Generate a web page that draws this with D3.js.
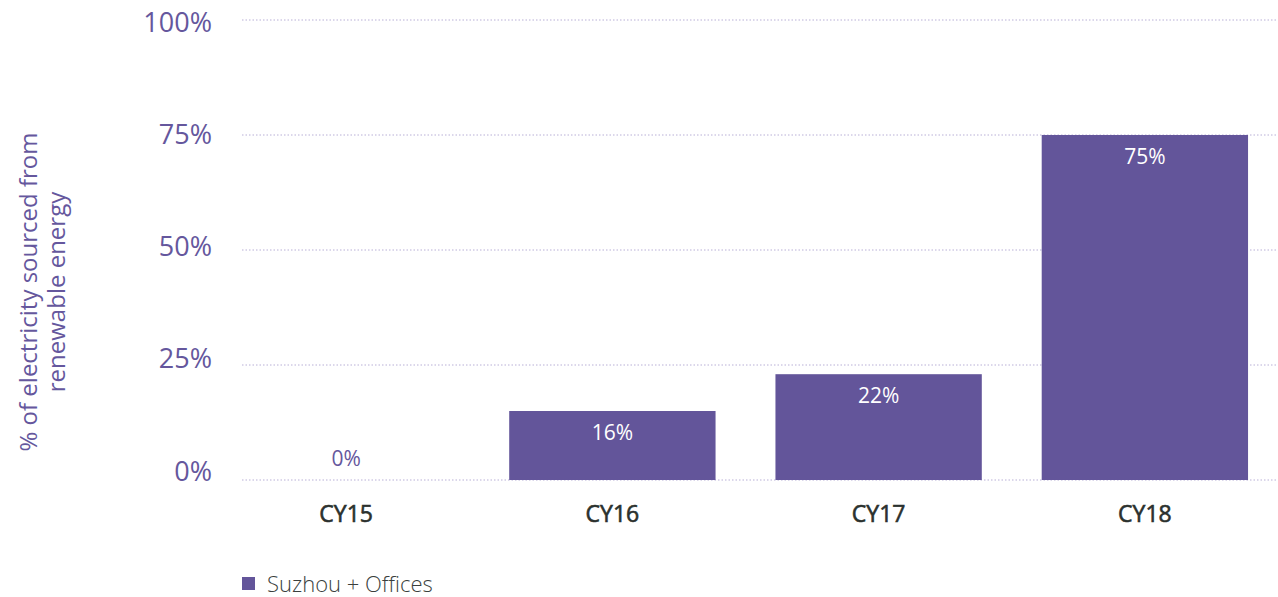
<!DOCTYPE html>
<html>
<head>
<meta charset="utf-8">
<script src="https://cdn.jsdelivr.net/npm/d3@7"></script>
<style>
  body { margin: 0; background: #fff; }
  svg { font-family: "Open Sans", Lato, sans-serif; }
</style>
</head>
<body>
<div id="chart"></div>
<script>
// Renewable electricity share by calendar year
const categories = ['CY15', 'CY16', 'CY17', 'CY18'];
const values = [0, 15, 23, 75];
const valueLabels = ['0%', '16%', '22%', '75%'];
const yTicks = [0, 25, 50, 75, 100];
const seriesName = 'Suzhou + Offices';

const W = 1278, H = 597;
const purple = '#63559a';
const textPurple = '#65579d';

const svg = d3.select('#chart').append('svg')
  .attr('width', W)
  .attr('height', H);

const x = d3.scaleBand()
  .domain(categories)
  .range([213, 1278])
  .paddingInner(0.225)
  .paddingOuter(0.1125);

const y = d3.scaleLinear().domain([0, 100]).range([480, 20]);
// tick labels sit slightly off the grid lines in the original
const yLab = d3.scaleLinear().domain([0, 100]).range([471, 22]);

// grid lines
svg.append('g')
  .selectAll('line')
  .data(yTicks)
  .enter().append('line')
  .attr('x1', 242)
  .attr('x2', W)
  .attr('y1', d => y(d))
  .attr('y2', d => y(d))
  .style('stroke', '#b8afd6')
  .style('stroke-width', 1)
  .style('stroke-dasharray', '1.5,2');

// y tick labels
svg.append('g')
  .selectAll('text')
  .data(yTicks)
  .enter().append('text')
  .attr('x', 212)
  .attr('y', d => yLab(d))
  .attr('dy', '0.36em')
  .attr('text-anchor', 'end')
  .style('font-size', '27px')
  .style('fill', textPurple)
  .text(d => d + '%');

// y title
const yTitle = svg.append('text')
  .attr('transform', 'translate(37,292) rotate(-90)')
  .attr('text-anchor', 'middle')
  .style('font-size', '24px')
  .style('fill', textPurple);
yTitle.append('tspan').attr('x', 0).attr('dy', 0).text('% of electricity sourced from');
yTitle.append('tspan').attr('x', 0).attr('dy', 28).text('renewable energy');

// bars
svg.append('g')
  .selectAll('rect')
  .data(values)
  .enter().append('rect')
  .attr('x', (d, i) => x(categories[i]))
  .attr('y', d => y(d))
  .attr('width', x.bandwidth())
  .attr('height', d => y(0) - y(d))
  .style('fill', purple);

// value labels
svg.append('g')
  .selectAll('text')
  .data(values)
  .enter().append('text')
  .attr('x', (d, i) => x(categories[i]) + x.bandwidth() / 2)
  .attr('y', d => d > 0 ? y(d) + 21 : y(0) - 22)
  .attr('dy', '0.36em')
  .attr('text-anchor', 'middle')
  .style('font-size', '21px')
  .style('fill', d => d > 0 ? '#fff' : textPurple)
  .text((d, i) => valueLabels[i]);

// x axis labels (medium weight faked with a thin stroke)
svg.append('g')
  .attr('transform', 'translate(0,514)')
  .call(d3.axisBottom(x).tickSize(0).tickPadding(0))
  .call(g => g.select('.domain').remove())
  .selectAll('text')
  .attr('dy', '0.36em')
  .style('font-family', '"Open Sans", sans-serif')
  .style('font-size', '23px')
  .style('fill', '#2b312e')
  .style('stroke', '#2b312e')
  .style('stroke-width', 0.6);

// legend
const legend = svg.append('g').attr('transform', 'translate(242,577)');
legend.append('rect')
  .attr('width', 13)
  .attr('height', 13)
  .style('fill', purple);
legend.append('text')
  .attr('x', 25)
  .attr('y', 7)
  .attr('dy', '0.36em')
  .style('font-size', '22px')
  .style('font-weight', '300')
  .style('fill', '#3a3f3d')
  .text(seriesName);
</script>
</body>
</html>
